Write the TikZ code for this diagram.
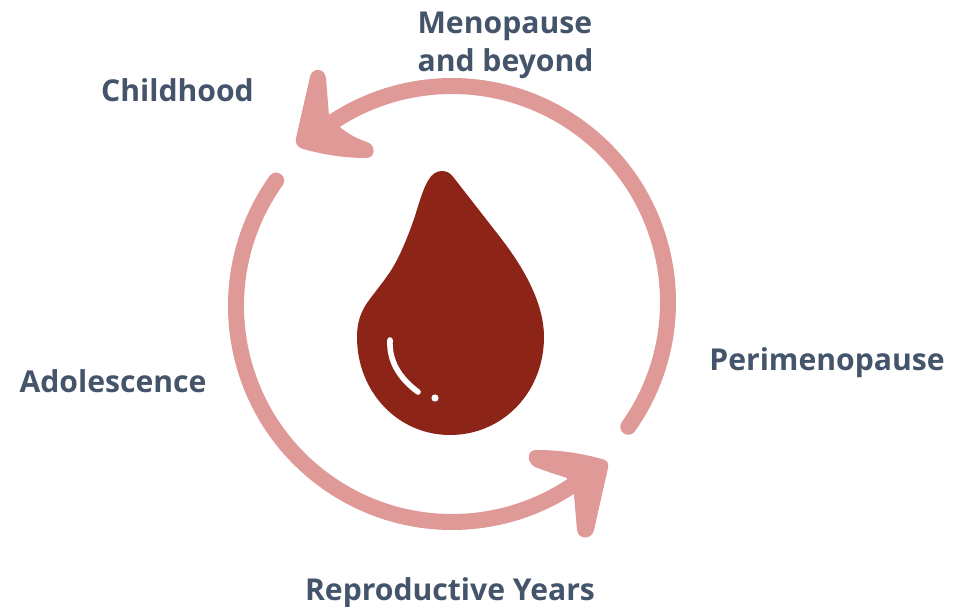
\documentclass[tikz,border=0pt]{standalone}
\usepackage{fontspec}
\setmainfont{Open Sans}[BoldFont={Open Sans Bold}]
\colorlet{colbg}{white}
\definecolor{colring}{HTML}{DF9A98}
\definecolor{coldrop}{HTML}{8C2418}
\definecolor{coltext}{HTML}{44546A}
\tikzstyle{ring}=[line width=12pt,colring,line cap=round]
\tikzstyle{stage}=[font=\bfseries\fontsize{22.6}{28.5}\selectfont,text=coltext,inner sep=0pt,align=left]
\begin{document}
\begin{tikzpicture}[x=0.75pt,y=0.75pt,yscale=-1]
      \useasboundingbox (0,0) rectangle (954,607);
      \coordinate (cenup) at (452,302);
      \coordinate (cenlow) at (452,306);

      % Upper arrow
      \draw[ring] (cenup) ++(35.3:162pt) arc[start angle=35.3,end angle=-127,radius=162pt];
      \fill[colring] (310,77) .. controls (311,72) and (314,70) .. (318,70)
        .. controls (323,70) and (325,73) .. (326,78) -- (329,116) -- (341,128)
        .. controls (350,135) and (358,139) .. (367,142)
        .. controls (376,145) and (376,158) .. (366,158)
        .. controls (345,158) and (325,155) .. (303,149)
        .. controls (297,147) and (295,143) .. (296,138) -- cycle;

      % Lower arrow
      \draw[ring] (cenlow) ++(215.5:162pt) arc[start angle=215.5,end angle=49,radius=162pt];
      \fill[colring] (536,450) .. controls (560,450) and (580,453) .. (602,459)
        .. controls (607,460) and (609,463) .. (608,468) -- (594,530)
        .. controls (592,540) and (578,540) .. (577,530) -- (574,495) -- (567,478)
        .. controls (555,474) and (545,471) .. (535,467)
        .. controls (526,462) and (527,450) .. (536,450) -- cycle;

      % Drop
      \fill[coldrop] (442,171) .. controls (448,171) and (451,174) .. (454,178) -- (500,237)
        .. controls (517,259) and (544,298) .. (544,337)
        .. controls (544,392) and (503,435) .. (450,435)
        .. controls (398,435) and (357,392) .. (357,337)
        .. controls (357,322) and (361,312) .. (367,303)
        .. controls (380,285) and (388,277) .. (397,260)
        .. controls (407,240) and (414,220) .. (419,203)
        .. controls (425,185) and (430,171) .. (442,171) -- cycle;
      \draw[colbg,line width=4.2pt,line cap=round] (390,340) .. controls (389,360) and (398,377) .. (418,392);
      \fill[colbg] (435,398) circle (3.6);

      % Stages
      \node[stage] (menopause) at (505.5,45) {Menopause\\and beyond};
      \node[stage] (childhood) at (177.5,90) {Childhood};
      \node[stage] (perimenopause) at (827,363) {Perimenopause};
      \node[stage] (adolescence) at (113,381) {Adolescence};
      \node[stage] (reproductive) at (450,593) {Reproductive Years};
    \end{tikzpicture}
\end{document}
